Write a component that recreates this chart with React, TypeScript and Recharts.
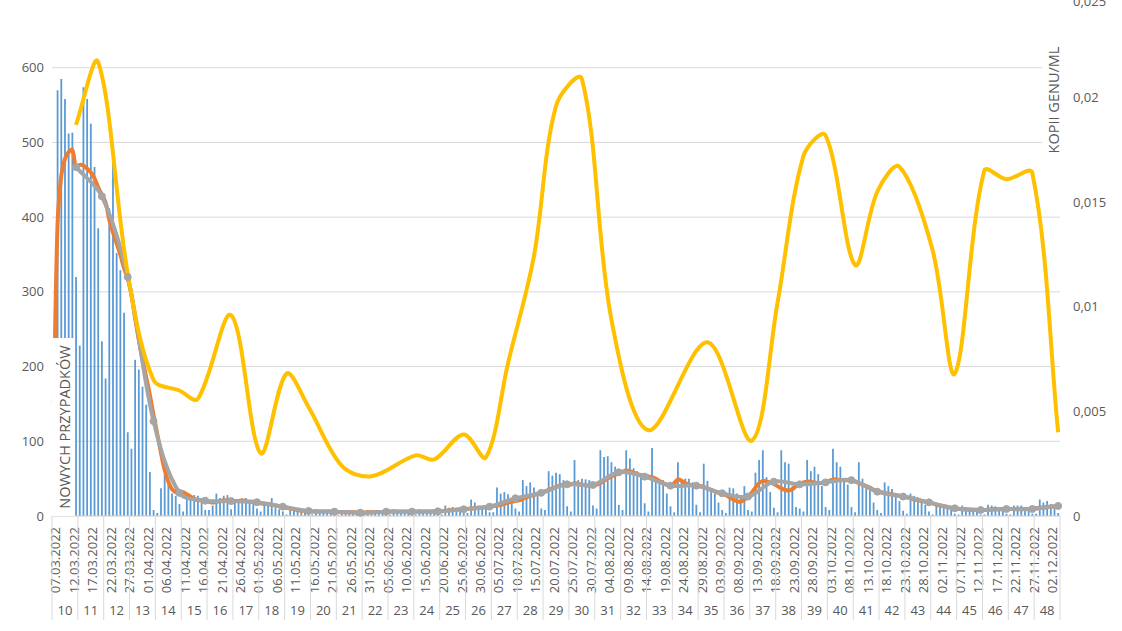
import React from 'react';
import { ComposedChart, Bar, Line, XAxis, YAxis, CartesianGrid } from 'recharts';

// tick labels
const dateLabels = [
  '07.03.2022', '12.03.2022', '17.03.2022', '22.03.2022', '27.03.2022', '01.04.2022', '06.04.2022',
  '11.04.2022', '16.04.2022', '21.04.2022', '26.04.2022', '01.05.2022', '06.05.2022', '11.05.2022',
  '16.05.2022', '21.05.2022', '26.05.2022', '31.05.2022', '05.06.2022', '10.06.2022', '15.06.2022',
  '20.06.2022', '25.06.2022', '30.06.2022', '05.07.2022', '10.07.2022', '15.07.2022', '20.07.2022',
  '25.07.2022', '30.07.2022', '04.08.2022', '09.08.2022', '14.08.2022', '19.08.2022', '24.08.2022',
  '29.08.2022', '03.09.2022', '08.09.2022', '13.09.2022', '18.09.2022', '23.09.2022', '28.09.2022',
  '03.10.2022', '08.10.2022', '13.10.2022', '18.10.2022', '23.10.2022', '28.10.2022', '02.11.2022',
  '07.11.2022', '12.11.2022', '17.11.2022', '22.11.2022', '27.11.2022', '02.12.2022',
];

const weekNumbers = [
  10, 11, 12, 13, 14, 15, 16, 17, 18, 19, 20, 21, 22, 23, 24, 25, 26, 27, 28, 29,
  30, 31, 32, 33, 34, 35, 36, 37, 38, 39, 40, 41, 42, 43, 44, 45, 46, 47, 48,
];

// daily new cases, one row per week (Mon..Sun)
const dailyCases = [
  210, 570, 585, 558, 512, 513, 320,
  228, 574, 558, 525, 467, 385, 234,
  184, 412, 498, 352, 329, 272, 112,
  90, 209, 196, 173, 149, 59, 8,
  4, 37, 55, 44, 30, 27, 16,
  6, 30, 26, 28, 27, 19, 8,
  8, 14, 30, 24, 27, 28, 9,
  21, 21, 20, 24, 19, 19, 10,
  6, 18, 14, 24, 11, 9, 6,
  2, 11, 9, 8, 7, 6, 3,
  2, 9, 8, 7, 7, 5, 3,
  1, 7, 6, 6, 5, 4, 2,
  2, 8, 8, 7, 7, 6, 3,
  2, 9, 7, 8, 7, 5, 3,
  2, 9, 8, 8, 7, 6, 3,
  2, 14, 11, 12, 11, 9, 4,
  4, 22, 18, 14, 13, 12, 5,
  5, 38, 30, 32, 29, 22, 10,
  6, 48, 40, 45, 38, 30, 10,
  8, 60, 54, 58, 56, 48, 13,
  6, 75, 48, 50, 49, 48, 14,
  10, 88, 79, 80, 72, 66, 15,
  8, 88, 77, 64, 60, 55, 17,
  6, 91, 48, 48, 48, 30, 13,
  5, 72, 47, 50, 50, 45, 15,
  5, 70, 47, 35, 30, 18, 8,
  4, 38, 37, 30, 25, 40, 8,
  6, 58, 75, 88, 52, 32, 11,
  5, 88, 72, 70, 40, 12, 10,
  6, 75, 60, 66, 56, 40, 12,
  8, 90, 72, 66, 46, 42, 12,
  5, 72, 50, 40, 35, 18, 8,
  4, 45, 40, 36, 30, 20, 7,
  3, 30, 27, 25, 22, 15, 6,
  2, 18, 15, 14, 12, 8, 3,
  2, 14, 12, 11, 9, 6, 2,
  2, 15, 14, 13, 11, 8, 3,
  2, 14, 14, 14, 12, 7, 3,
  3, 22, 18, 20, 16, 11, 4,
];

// orange daily moving average
const movingAvg = [
  150, 390, 455, 478, 487, 490, 467,
  470, 469, 465, 460, 452, 440, 430,
  420, 397, 380, 365, 350, 332, 318,
  297, 265, 236, 210, 186, 162, 135,
  110, 85, 62, 46, 36, 32, 31,
  32, 29, 26, 23, 21, 21, 20,
  19, 18, 19, 20, 21, 21, 20,
  20, 20, 21, 20, 19, 19, 18,
  17, 16, 16, 15, 14, 13, 12,
  11, 10, 9, 8, 7, 7, 7,
  6, 6, 6, 6, 6, 6, 6,
  5, 5, 5, 5, 5, 5, 4.5,
  4.5, 5, 5, 5, 5.5, 5.5, 6,
  6, 6, 6, 6, 6, 6, 6,
  6, 6, 6, 6, 6, 6, 6,
  6.5, 7, 7.5, 8, 8.5, 9, 9,
  9.5, 10, 10.5, 11, 11.5, 12, 12.5,
  13, 14, 15, 16, 18, 19, 20,
  21, 23, 25, 27, 28, 30, 31,
  33, 35, 37, 39, 41, 42, 42,
  42, 44, 43, 42, 41, 41, 41,
  42, 44, 47, 50, 53, 55, 57,
  59, 61, 60, 58, 56, 55, 54,
  53, 52, 50, 47, 44, 42, 41,
  44, 49, 47, 44, 42, 41, 41,
  40, 39, 37, 35, 33, 31, 30,
  28, 25, 22, 20, 19, 22, 26,
  31, 38, 44, 47, 46, 45, 43,
  40, 37, 35, 34, 36, 40, 43,
  45, 46, 46, 45, 44, 44, 45,
  47, 49, 49, 48, 48, 48, 48,
  46, 44, 42, 40, 38, 35, 33,
  32, 31, 30, 29, 28, 27, 26,
  25, 24, 22, 21, 20, 19, 18,
  17, 15, 14, 13, 12, 11, 10,
  9.5, 9, 9, 8.5, 8.5, 8, 8,
  8, 8.5, 9, 9, 9, 9.5, 9.5,
  9.5, 9, 9, 9, 9.5, 9.5, 10,
  10.5, 11, 11.5, 12, 12.5, 13, 13,
];

// gray weekly average, plotted on each Sunday
const weeklyAvg = [
  467, 428, 320, 127, 31, 20.5, 20, 18.5, 12.5, 6.7,
  5.8, 4.5, 5.8, 5.8, 6.2, 9, 12.5, 23.7, 31, 42.4,
  41.5, 58.5, 52.7, 40.6, 40.6, 30.4, 26, 46, 42.4, 45,
  48, 32.6, 26, 18.3, 10.3, 8, 9.4, 9.4, 13.4,
];

// yellow: gene copies / ml (right axis), day index of each sample
const sampleDays = [
  6, 12, 20, 27, 34, 39, 48, 56, 63, 69, 78, 86, 98, 103, 111, 117, 123, 130,
  136, 143, 151, 161, 177, 189, 196, 203, 209, 217, 223, 229, 238, 244, 252,
  258, 265, 272,
];
const geneCopies = [
  0.0187, 0.0217, 0.0116, 0.0065, 0.006, 0.0056, 0.0096, 0.003, 0.0068, 0.0052,
  0.0024, 0.0019, 0.0029, 0.0027, 0.0039, 0.0028, 0.0073, 0.0124, 0.0196, 0.0209,
  0.0094, 0.0041, 0.0083, 0.0036, 0.0102, 0.0172, 0.0182, 0.012, 0.0155, 0.0167,
  0.0127, 0.0068, 0.0165, 0.0161, 0.0164, 0.004,
];

const leftTicks = [0, 100, 200, 300, 400, 500, 600];
const rightTicks = [0, 0.005, 0.01, 0.015, 0.02, 0.025];

const rows = dailyCases.map((cases, day) => {
  const week = Math.floor(day / 7);
  const sample = sampleDays.indexOf(day);
  return {
    day,
    cases,
    avg: movingAvg[day],
    weekly: day % 7 === 6 ? weeklyAvg[week] : null,
    copies: sample >= 0 ? geneCopies[sample] : null,
  };
});

const FONT = '"Open Sans", "Liberation Sans", sans-serif';
const TEXT = '#595959';
const GRID = '#d9d9d9';
const AXIS_Y = 523;
const DAY_W = 1008 / dailyCases.length;

// Excel-like smoothed line: bezier through every point, tangents weighted by segment length
const excelSmooth = (context: any) => {
  let pts: number[][] = [];
  const dist = (a: number[], b: number[]) => Math.hypot(b[0] - a[0], b[1] - a[1]);
  return {
    areaStart() {},
    areaEnd() {},
    lineStart() {
      pts = [];
    },
    point(x: number, y: number) {
      pts.push([+x, +y]);
    },
    lineEnd() {
      if (!pts.length) return;
      context.moveTo(pts[0][0], pts[0][1]);
      for (let i = 0; i < pts.length - 1; i++) {
        const p0 = pts[Math.max(i - 1, 0)];
        const p1 = pts[i];
        const p2 = pts[i + 1];
        const p3 = pts[Math.min(i + 2, pts.length - 1)];
        const d01 = dist(p0, p1);
        const d12 = dist(p1, p2);
        const d23 = dist(p2, p3);
        const a = d12 / 3 / (d01 + d12 || 1);
        const b = d12 / 3 / (d12 + d23 || 1);
        context.bezierCurveTo(
          p1[0] + (p2[0] - p0[0]) * a, p1[1] + (p2[1] - p0[1]) * a,
          p2[0] - (p3[0] - p1[0]) * b, p2[1] - (p3[1] - p1[1]) * b,
          p2[0], p2[1],
        );
      }
    },
  };
};

const DayTick = (props: any) => {
  const { x, payload } = props;
  const day = payload.value as number;
  const left = x - DAY_W / 2;
  return (
    <g>
      {day % 5 === 0 && (
        <text
          transform={`translate(${x + 6.5},${AXIS_Y + 11}) rotate(-90)`}
          textAnchor="end"
          fontSize={13}
          fontFamily={FONT}
          fill={TEXT}
        >
          {dateLabels[day / 5]}
        </text>
      )}
      {day % 7 === 0 && <line x1={left} x2={left} y1={AXIS_Y} y2={AXIS_Y + 104} stroke={GRID} />}
      {day === dailyCases.length - 1 && (
        <line x1={x + DAY_W / 2} x2={x + DAY_W / 2} y1={AXIS_Y} y2={AXIS_Y + 104} stroke={GRID} />
      )}
      {day % 7 === 3 && (
        <text x={x} y={AXIS_Y + 99} textAnchor="middle" fontSize={13} fontFamily={FONT} fill={TEXT}>
          {weekNumbers[(day - 3) / 7]}
        </text>
      )}
    </g>
  );
};

const titleStyle: React.CSSProperties = {
  position: 'absolute',
  left: '50%',
  top: '50%',
  transform: 'translate(-50%, -50%) rotate(-90deg)',
  whiteSpace: 'nowrap',
  fontFamily: FONT,
  fontSize: 14.5,
  color: TEXT,
};

export default function App() {
  return (
    <div style={{ position: 'absolute', left: 0, top: 0, width: 1122, height: 631, overflow: 'hidden', background: '#fff' }}>
      <div style={{ position: 'absolute', left: 0, top: -7 }}>
        <ComposedChart width={1122} height={645} data={rows} margin={{ top: 0, right: 0, bottom: 0, left: 0 }}>
          <CartesianGrid yAxisId="left" vertical={false} stroke={GRID} />
          <XAxis
            dataKey="day"
            interval={0}
            height={122}
            tickLine={false}
            axisLine={{ stroke: GRID }}
            tick={(p: any) => <DayTick {...p} />}
          />
          <YAxis
            yAxisId="left"
            domain={[0, 700]}
            ticks={leftTicks}
            width={52}
            axisLine={false}
            tickLine={false}
            tick={{ fill: TEXT, fontSize: 13, fontFamily: FONT }}
          />
          <YAxis
            yAxisId="right"
            orientation="right"
            domain={[0, 0.025]}
            ticks={rightTicks}
            width={62}
            axisLine={false}
            tickLine={false}
            tickMargin={7}
            tickFormatter={(v: number) => String(v).replace('.', ',')}
            tick={{ fill: TEXT, fontSize: 13, fontFamily: FONT, textAnchor: 'start' }}
          />
          <Bar yAxisId="left" dataKey="cases" fill="#5b9bd5" barSize={1.8} isAnimationActive={false} />
          <Line
            yAxisId="left"
            dataKey="avg"
            type={excelSmooth as any}
            stroke="#ed7d31"
            strokeWidth={4}
            dot={false}
            isAnimationActive={false}
          />
          <Line
            yAxisId="left"
            dataKey="weekly"
            type={excelSmooth as any}
            stroke="#a5a5a5"
            strokeWidth={4}
            connectNulls
            dot={{ r: 3.5, fill: '#a5a5a5', stroke: '#a5a5a5', strokeWidth: 1 }}
            isAnimationActive={false}
          />
          <Line
            yAxisId="right"
            dataKey="copies"
            type={excelSmooth as any}
            stroke="#ffc000"
            strokeWidth={4}
            connectNulls
            dot={false}
            isAnimationActive={false}
          />
        </ComposedChart>
      </div>
      <div style={{ position: 'absolute', left: 52, top: 338, width: 23, height: 178, background: '#fff' }}>
        <div style={titleStyle}>NOWYCH PRZYPADKÓW</div>
      </div>
      <div style={{ position: 'absolute', left: 1042, top: 40, width: 21, height: 120, background: '#fff' }}>
        <div style={titleStyle}>KOPII GENU/ML</div>
      </div>
    </div>
  );
}
